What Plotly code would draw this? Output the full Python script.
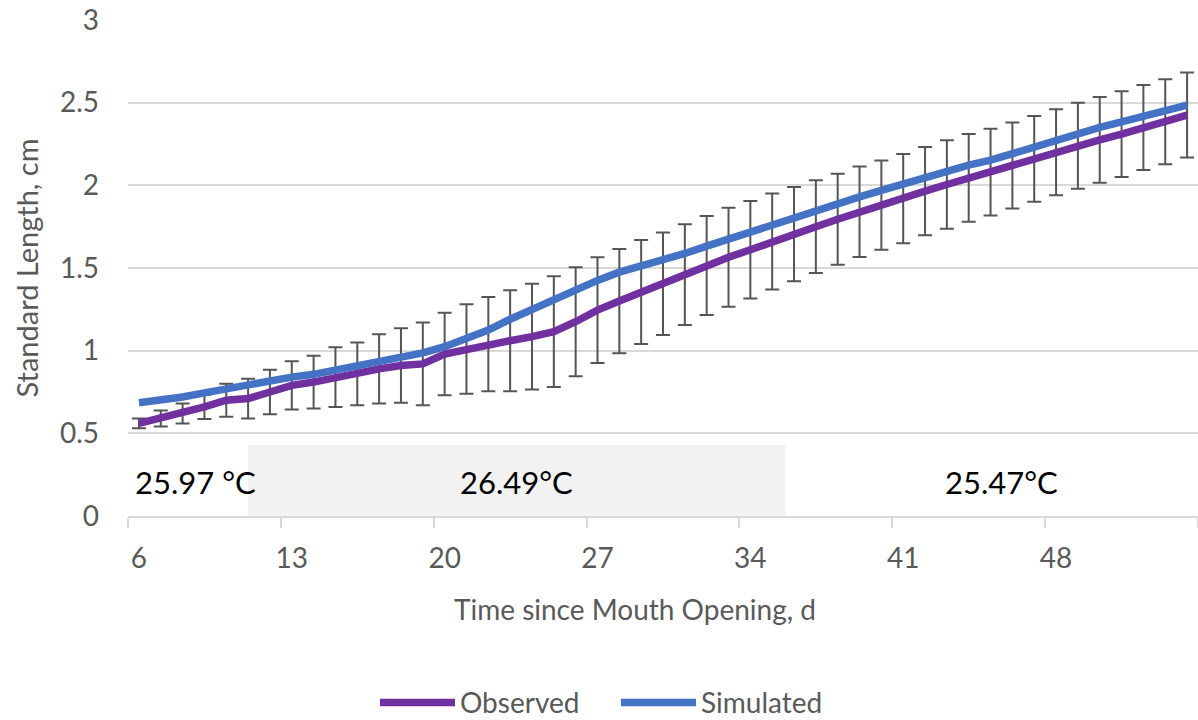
import plotly.graph_objects as go

# ---------------- data ----------------
days = list(range(6, 55))

observed = [0.56, 0.59, 0.62, 0.66, 0.70, 0.71, 0.75, 0.79, 0.81, 0.84,
            0.86, 0.89, 0.91, 0.92, 0.98, 1.01, 1.04, 1.06, 1.085, 1.115,
            1.175, 1.245, 1.30, 1.355, 1.405, 1.46, 1.515, 1.565, 1.61, 1.66,
            1.705, 1.75, 1.795, 1.84, 1.88, 1.92, 1.965, 2.005, 2.045, 2.08,
            2.12, 2.16, 2.20, 2.24, 2.275, 2.31, 2.35, 2.385, 2.425]

observed_sd = [0.03, 0.048, 0.06, 0.074, 0.10, 0.12, 0.135, 0.146, 0.16, 0.18,
               0.19, 0.21, 0.225, 0.25, 0.25, 0.27, 0.285, 0.305, 0.32, 0.335,
               0.33, 0.32, 0.315, 0.315, 0.31, 0.305, 0.30, 0.30, 0.295, 0.29,
               0.285, 0.28, 0.275, 0.274, 0.27, 0.27, 0.267, 0.268, 0.266, 0.262,
               0.26, 0.26, 0.26, 0.26, 0.26, 0.259, 0.257, 0.257, 0.257]

simulated = [0.685, 0.70, 0.72, 0.745, 0.77, 0.79, 0.815, 0.84, 0.857, 0.883,
             0.913, 0.939, 0.957, 0.987, 1.024, 1.075, 1.125, 1.19, 1.25, 1.315,
             1.375, 1.425, 1.475, 1.51, 1.548, 1.588, 1.632, 1.675, 1.72, 1.765,
             1.81, 1.85, 1.89, 1.93, 1.97, 2.01, 2.048, 2.082, 2.122, 2.152,
             2.193, 2.233, 2.273, 2.314, 2.35, 2.384, 2.418, 2.45, 2.485]

x_tick_vals = [6, 13, 20, 27, 34, 41, 48]
x_tick_bounds = [5.5, 12.5, 19.5, 26.5, 33.5, 40.5, 47.5, 54.5]
y_tick_vals = [0, 0.5, 1, 1.5, 2, 2.5, 3]
y_tick_text = ["0", "0.5", "1", "1.5", "2", "2.5", "3"]

temp_labels = ["25.97 °C", "26.49°C", "25.47°C"]
temp_label_days = [8.6, 23.3, 45.5]
temp_label_level = 0.205
warm_period = [11.0, 35.6]
warm_band_top = 0.43

series_names = ["Observed", "Simulated"]
x_title = "Time since Mouth Opening, d"
y_title = "Standard Length, cm"

# ---------------- style ----------------
FONT = "Lato"
TICK_COLOR = "#595959"
GRID = "#D9D9D9"

fig = go.Figure()

# error bars (drawn underneath lines)
fig.add_trace(go.Scatter(
    x=days, y=observed, mode="markers",
    marker=dict(size=1, color="rgba(0,0,0,0)"),
    error_y=dict(type="data", array=observed_sd, visible=True,
                 color="#555555", thickness=2, width=7),
    showlegend=False, hoverinfo="skip"))

fig.add_trace(go.Scatter(
    x=days, y=observed, mode="lines", name=series_names[0],
    line=dict(color="#7030A0", width=7.5, shape="linear")))

fig.add_trace(go.Scatter(
    x=days, y=simulated, mode="lines", name=series_names[1],
    line=dict(color="#4472C4", width=7.5, shape="linear")))

# warm-period shaded band
fig.add_shape(type="rect", xref="x", yref="y",
              x0=warm_period[0], x1=warm_period[1], y0=0, y1=warm_band_top,
              fillcolor="#F2F2F2", line=dict(width=0), layer="below")

for txt, xd in zip(temp_labels, temp_label_days):
    fig.add_annotation(x=xd, y=temp_label_level, xref="x", yref="y",
                       text=txt, showarrow=False,
                       font=dict(family=FONT, size=31, color="#000000"))

# x-axis title (placed as in the original, slightly left of plot centre)
fig.add_annotation(x=0.474, y=-0.1875, xref="paper", yref="paper",
                   xanchor="center", yanchor="middle", text=x_title,
                   showarrow=False,
                   font=dict(family=FONT, size=28, color=TICK_COLOR))

fig.update_layout(
    width=1198, height=720,
    margin=dict(l=128, r=0, t=20, b=204),
    paper_bgcolor="white", plot_bgcolor="white",
    font=dict(family=FONT, size=28, color=TICK_COLOR),
    showlegend=True,
    legend=dict(orientation="h", xref="container", yref="container",
                x=0.313, xanchor="left", y=0.024, yanchor="middle",
                font=dict(family=FONT, size=28, color=TICK_COLOR),
                itemwidth=75, entrywidth=151, entrywidthmode="pixels",
                bgcolor="rgba(0,0,0,0)"),
    xaxis=dict(
        range=[5.5, 54.5], tickmode="array", tickvals=x_tick_vals,
        ticks="", showgrid=False, zeroline=False,
        showline=True, linecolor=GRID, linewidth=1.5,
        ticklabelstandoff=17,
        tickfont=dict(family=FONT, size=28, color=TICK_COLOR),
        minor=dict(tickmode="array", tickvals=x_tick_bounds, ticks="outside",
                   ticklen=10, tickcolor=GRID, tickwidth=1.5, showgrid=False),
    ),
    yaxis=dict(
        range=[0, 3], tickmode="array", tickvals=y_tick_vals, ticktext=y_tick_text,
        ticks="", showgrid=True, gridcolor=GRID, gridwidth=1.5,
        zeroline=False, showline=False,
        ticklabelstandoff=28,
        tickfont=dict(family=FONT, size=28, color=TICK_COLOR),
        title=dict(text=y_title, standoff=12,
                   font=dict(family=FONT, size=29, color=TICK_COLOR)),
    ),
)

fig.write_html("out.html")
